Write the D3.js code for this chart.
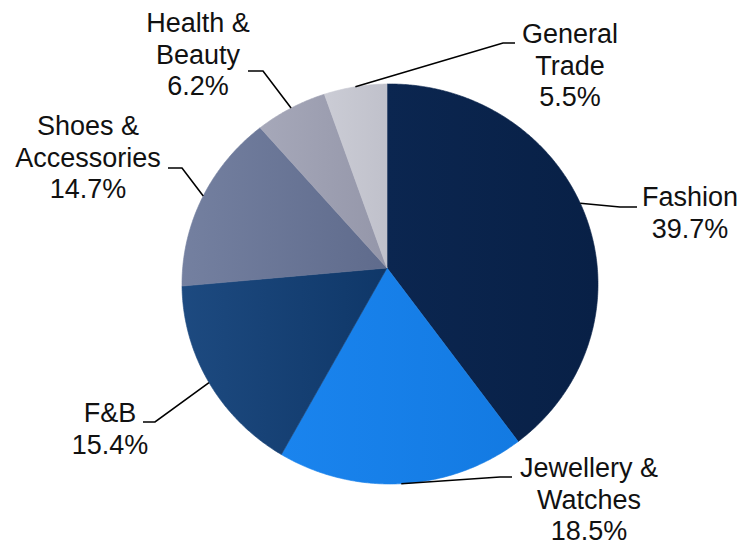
<!DOCTYPE html>
<html>
<head>
<meta charset="utf-8">
<script src="https://cdn.jsdelivr.net/npm/d3@7"></script>
<style>
  html, body { margin: 0; padding: 0; background: #ffffff; }
  svg { display: block; }
  text { font-family: "Liberation Sans", Arial, Helvetica, sans-serif; fill: #111111; }
</style>
</head>
<body>
<svg id="chart" width="744" height="547"></svg>
<script>
// Retail mix by trade category (share of total, %)
const categories = ["Fashion", "Jewellery & Watches", "F&B", "Shoes & Accessories", "Health & Beauty", "General Trade"];
const shares = [39.7, 18.5, 15.4, 14.7, 6.2, 5.5];
const labelLines = [["Fashion"], ["Jewellery &", "Watches"], ["F&B"], ["Shoes &", "Accessories"], ["Health &", "Beauty"], ["General", "Trade"]];

// Slice fills: [left tone, right tone]
const sliceColors = [
  ["#0b2650", "#082046"],
  ["#1a84ee", "#137ae2"],
  ["#1d4a80", "#0f3768"],
  ["#7480a0", "#5f6b8c"],
  ["#a6a8b9", "#9496a9"],
  ["#cbccd5", "#c0c1cb"]
];

// Label placement: text centre / first baseline, and leader elbow + end points
const labelLayout = [
  { x: 690, y: 206, elbow: [620, 207], end: [637, 207] },
  { x: 589, y: 477, elbow: [500, 477], end: [512, 477] },
  { x: 110, y: 422, elbow: [155, 422], end: [143, 422] },
  { x: 88,  y: 135, elbow: [182, 168], end: [168, 168] },
  { x: 198, y: 32,  elbow: [263, 71],  end: [248, 71] },
  { x: 570, y: 43,  elbow: [503, 43],  end: [515, 43] }
];

const lineHeight = 31.7;
const fontSize = 27;

// Pie geometry: slices radiate from the apex out to an elliptical rim
const apex = [387, 268];
const rim = { cx: 390, cy: 284, rx: 208, ry: 200 };

const svg = d3.select("#chart");
const defs = svg.append("defs");

sliceColors.forEach((c, i) => {
  const g = defs.append("linearGradient")
    .attr("id", "slice-grad-" + i)
    .attr("x1", 0).attr("y1", 0).attr("x2", 1).attr("y2", 0);
  g.append("stop").attr("offset", "0%").attr("stop-color", c[0]);
  g.append("stop").attr("offset", "100%").attr("stop-color", c[1]);
});

// Point on the rim along angle a (clockwise from 12 o'clock), seen from the apex
function rimPoint(a) {
  const dx = Math.sin(a), dy = -Math.cos(a);
  const u = (apex[0] - rim.cx) / rim.rx, v = (apex[1] - rim.cy) / rim.ry;
  const p = dx / rim.rx, q = dy / rim.ry;
  const A = p * p + q * q, B = u * p + v * q, C = u * u + v * v - 1;
  const t = (-B + Math.sqrt(B * B - A * C)) / A;
  return [apex[0] + t * dx, apex[1] + t * dy];
}

const pie = d3.pie().sort(null).value(d => d)(shares);
const line = d3.line().curve(d3.curveLinear);

const slices = svg.append("g").attr("class", "slices");
pie.forEach((arc, i) => {
  const steps = Math.max(2, Math.ceil((arc.endAngle - arc.startAngle) / (Math.PI / 360)));
  const pts = [apex];
  d3.range(steps + 1).forEach(k => {
    pts.push(rimPoint(arc.startAngle + (arc.endAngle - arc.startAngle) * k / steps));
  });
  slices.append("path")
    .attr("d", line(pts) + "Z")
    .attr("fill", "url(#slice-grad-" + i + ")")
    .attr("stroke", "url(#slice-grad-" + i + ")")
    .attr("stroke-width", 0.6);
});

// Leader lines
const leaders = svg.append("g").attr("class", "leaders");
pie.forEach((arc, i) => {
  const mid = (arc.startAngle + arc.endAngle) / 2;
  const L = labelLayout[i];
  leaders.append("path")
    .attr("d", line([rimPoint(mid), L.elbow, L.end]))
    .attr("fill", "none")
    .attr("stroke", "#000000")
    .attr("stroke-width", 1.6);
});

// Category + percentage labels
const fmt = d3.format(".1f");
const labels = svg.append("g").attr("class", "labels");
pie.forEach((arc, i) => {
  const L = labelLayout[i];
  const lines = labelLines[i].concat([fmt(shares[i]) + "%"]);
  const t = labels.append("text")
    .attr("text-anchor", "middle")
    .attr("font-size", fontSize);
  lines.forEach((s, k) => {
    t.append("tspan").attr("x", L.x).attr("y", L.y + k * lineHeight).text(s);
  });
});
</script>
</body>
</html>
